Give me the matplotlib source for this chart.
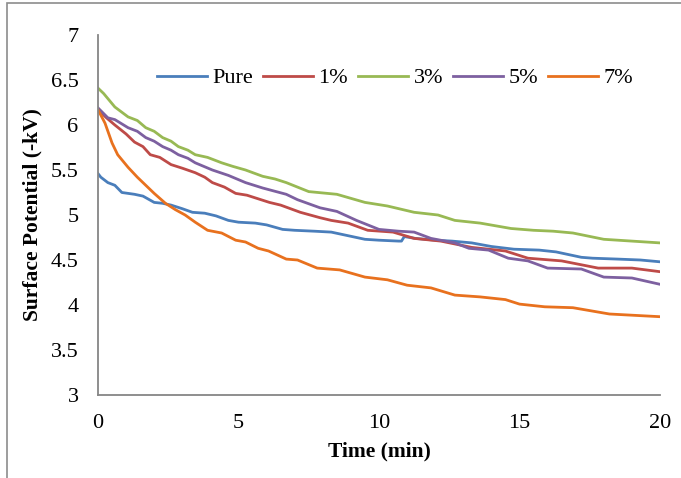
import matplotlib
matplotlib.use("Agg")
import matplotlib.pyplot as plt
from matplotlib.patches import Rectangle

t_pure = [0, 0.1, 0.35, 0.6, 0.85, 1.3, 1.6, 2.0, 2.3, 2.6, 3.0, 3.36, 3.8, 4.2, 4.64, 5.0, 5.6, 6.0, 6.57, 7.0, 7.7, 8.3, 8.9, 9.5, 10.0, 10.7, 10.8, 10.9, 11.3, 12.0, 12.6, 13.3, 14.0, 14.8, 15.7, 16.3, 17.2, 17.6, 18.5, 19.3, 20]
v_pure = [5.46, 5.42, 5.36, 5.33, 5.25, 5.23, 5.21, 5.14, 5.13, 5.11, 5.07, 5.03, 5.02, 4.99, 4.94, 4.92, 4.91, 4.89, 4.84, 4.83, 4.82, 4.81, 4.77, 4.73, 4.72, 4.71, 4.71, 4.76, 4.74, 4.72, 4.71, 4.69, 4.65, 4.62, 4.61, 4.59, 4.53, 4.52, 4.51, 4.50, 4.48]

t_1 = [0, 0.3, 0.6, 1.0, 1.3, 1.6, 1.86, 2.2, 2.6, 3.0, 3.46, 3.8, 4.07, 4.5, 4.9, 5.3, 5.6, 6.1, 6.5, 7.2, 7.9, 8.3, 8.9, 9.6, 10.5, 11.25, 12.2, 13.3, 13.6, 14.5, 15.3, 16.5, 17.8, 19.0, 20]
v_1 = [6.17, 6.08, 6.0, 5.9, 5.81, 5.76, 5.67, 5.64, 5.56, 5.52, 5.47, 5.42, 5.36, 5.31, 5.24, 5.22, 5.19, 5.14, 5.11, 5.03, 4.97, 4.94, 4.91, 4.83, 4.81, 4.74, 4.71, 4.64, 4.63, 4.60, 4.52, 4.49, 4.41, 4.41, 4.37]

t_3 = [0, 0.2, 0.6, 1.07, 1.4, 1.7, 2.0, 2.3, 2.6, 2.86, 3.2, 3.46, 3.9, 4.4, 4.8, 5.25, 5.86, 6.3, 6.7, 7.5, 8.5, 9.5, 10.3, 11.25, 12.1, 12.7, 13.6, 14.7, 15.5, 16.2, 16.9, 18.0, 19.0, 20]
v_3 = [6.41, 6.35, 6.2, 6.09, 6.05, 5.97, 5.93, 5.86, 5.82, 5.76, 5.72, 5.67, 5.64, 5.58, 5.54, 5.5, 5.43, 5.40, 5.36, 5.26, 5.23, 5.14, 5.10, 5.03, 5.0, 4.94, 4.91, 4.85, 4.83, 4.82, 4.80, 4.73, 4.71, 4.69]

t_5 = [0, 0.35, 0.6, 1.07, 1.4, 1.7, 2.0, 2.3, 2.6, 2.86, 3.2, 3.46, 4.07, 4.64, 5.25, 5.86, 6.7, 7.1, 7.9, 8.5, 9.2, 10.0, 10.7, 11.25, 11.85, 12.7, 13.2, 13.9, 14.6, 15.3, 16.0, 17.2, 18.0, 19.0, 20]
v_5 = [6.19, 6.08, 6.06, 5.97, 5.93, 5.86, 5.82, 5.76, 5.72, 5.67, 5.63, 5.58, 5.5, 5.44, 5.36, 5.3, 5.23, 5.17, 5.08, 5.04, 4.94, 4.84, 4.82, 4.81, 4.74, 4.69, 4.63, 4.61, 4.52, 4.49, 4.41, 4.40, 4.31, 4.30, 4.23]

t_7 = [0, 0.25, 0.5, 0.7, 1.07, 1.4, 1.7, 2.0, 2.4, 2.75, 3.1, 3.46, 3.9, 4.4, 4.9, 5.25, 5.7, 6.07, 6.7, 7.1, 7.8, 8.6, 9.5, 10.3, 11.0, 11.85, 12.7, 13.6, 14.5, 15.0, 15.9, 16.9, 18.2, 20]
v_7 = [6.17, 6.02, 5.8, 5.67, 5.53, 5.42, 5.33, 5.24, 5.13, 5.06, 5.0, 4.92, 4.83, 4.8, 4.72, 4.7, 4.63, 4.6, 4.51, 4.5, 4.41, 4.39, 4.31, 4.28, 4.22, 4.19, 4.11, 4.09, 4.06, 4.01, 3.98, 3.97, 3.9, 3.87]

labels = ["Pure", "1%", "3%", "5%", "7%"]
colors = ["#4A7EBB", "#BE4B48", "#98B954", "#7D60A0", "#E8711E"]
series = [(t_pure, v_pure), (t_1, v_1), (t_3, v_3), (t_5, v_5), (t_7, v_7)]

plt.rcParams['font.family'] = ['Liberation Serif', 'DejaVu Serif']

fig = plt.figure(figsize=(6.81, 4.78), dpi=100)
ax = fig.add_axes([98/681, 1-395/478, (660-98)/681, (395-35)/478])

for (t, v), lab, c in zip(series, labels, colors):
    ax.plot(t, v, color=c, lw=2, label=lab, solid_joinstyle='round')

ax.set_xlim(0, 20)
ax.set_ylim(3, 7)
ax.set_xticks([0, 5, 10, 15, 20])
ax.set_yticks([3, 3.5, 4, 4.5, 5, 5.5, 6, 6.5, 7])
ax.set_yticklabels(["3", "3.5", "4", "4.5", "5", "5.5", "6", "6.5", "7"])
ax.tick_params(axis='y', length=0, labelsize=16, pad=14)
ax.tick_params(axis='x', length=0, labelsize=16, pad=14)
for s in ["top", "right"]:
    ax.spines[s].set_visible(False)
for s in ["left", "bottom"]:
    ax.spines[s].set_color("#868686")
    ax.spines[s].set_linewidth(1.3)

ax.set_xlabel("Time (min)", fontsize=15.5, fontweight='bold', labelpad=6)
ax.set_ylabel("Surface Potential (-kV)", fontsize=15.5, fontweight='bold', labelpad=6)

fig.legend(loc='center', bbox_to_anchor=(395/681, 1-78/478), ncol=5, frameon=False,
           fontsize=16, handlelength=2.25, columnspacing=0.45, handletextpad=0.25)

fig.patches.append(Rectangle((7/681, -0.2), 1.5, 1.2 - 3/478 , transform=fig.transFigure,
                             fill=False, edgecolor="#8c8c8c", lw=1.2, clip_on=False))

fig.savefig("out.png", dpi=100)
